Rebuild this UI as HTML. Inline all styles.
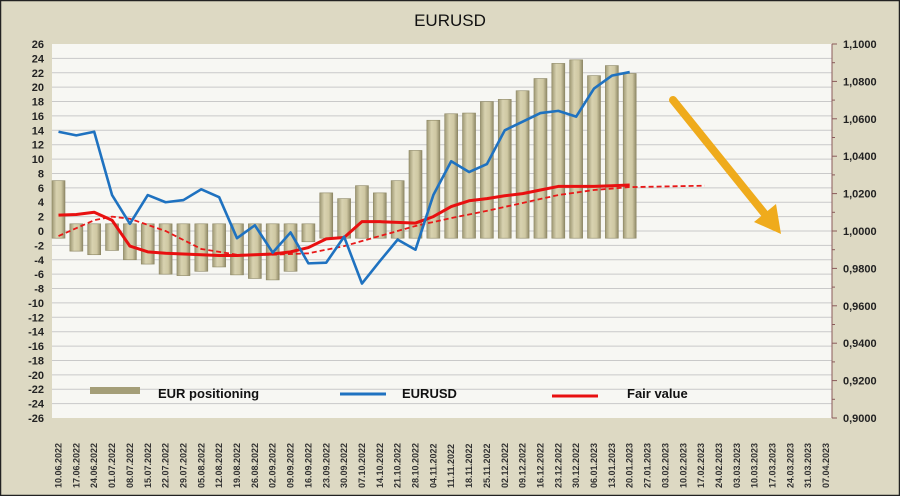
<!DOCTYPE html>
<html><head><meta charset="utf-8"><style>
html,body{margin:0;padding:0;background:#ddd9c3}
svg{display:block;font-family:"Liberation Sans",sans-serif}
</style></head><body>
<svg width="900" height="496" viewBox="0 0 900 496" xmlns="http://www.w3.org/2000/svg">
<defs>
<linearGradient id="bar" x1="0" x2="1" y1="0" y2="0">
<stop offset="0" stop-color="#9e9874"/><stop offset="0.35" stop-color="#d8d2b0"/><stop offset="0.7" stop-color="#cfc8a3"/><stop offset="1" stop-color="#8f8967"/>
</linearGradient>
</defs>
<rect x="0.5" y="0.5" width="899" height="495" fill="#ddd9c3" stroke="#222" stroke-width="1.5"/>
<text x="450" y="26" text-anchor="middle" font-size="17" fill="#111">EURUSD</text>
<rect x="52" y="44" width="780" height="374" fill="#f7f7f3"/>
<g id="grid" stroke="#c9c9c9" stroke-width="1"></g>
<g id="ylab" font-size="11" font-weight="bold" fill="#222" text-anchor="end"></g>
<g id="rlab" font-size="11" font-weight="bold" fill="#222"></g>
<line x1="832" y1="44" x2="832" y2="418" stroke="#8a5a5a" stroke-width="1"/>
<g id="rt" stroke="#8a5a5a" stroke-width="1"></g>
<g id="bars"></g>
<polyline id="dash" fill="none" stroke="#e81818" stroke-width="1.8" stroke-dasharray="5,3"/>
<polyline id="red" fill="none" stroke="#e81010" stroke-width="3" stroke-linejoin="round"/>
<polyline id="blue" fill="none" stroke="#1f72c0" stroke-width="2.6" stroke-linejoin="round"/>
<line x1="673" y1="100" x2="768" y2="218" stroke="#efab1c" stroke-width="8" stroke-linecap="round"/>
<polygon points="781,234 754,222 776,204" fill="#efab1c"/>
<g id="xlab" font-size="9" font-weight="bold" fill="#333"></g>
<rect x="90" y="387" width="50" height="7" fill="#a49e78"/>
<text x="158" y="398" font-size="13" font-weight="bold" fill="#111">EUR positioning</text>
<line x1="340" y1="394" x2="386" y2="394" stroke="#1f72c0" stroke-width="3"/>
<text x="402" y="398" font-size="13" font-weight="bold" fill="#111">EURUSD</text>
<line x1="552" y1="396" x2="598" y2="396" stroke="#e81010" stroke-width="3"/>
<text x="627" y="398" font-size="13" font-weight="bold" fill="#111">Fair value</text>
</svg>
<script>
const NS="http://www.w3.org/2000/svg";
const Y=v=>231-v*7.192, X=i=>58.5+i*17.85;
function el(t,a,p,txt){const e=document.createElementNS(NS,t);for(const k in a)e.setAttribute(k,a[k]);if(txt!==undefined)e.textContent=txt;document.getElementById(p).appendChild(e);}
for(let v=-26;v<=26;v+=2){if(v>-26&&v<26)el("line",{x1:52,x2:832,y1:Y(v),y2:Y(v)},"grid");el("text",{x:44,y:Y(v)+4},"ylab",String(v));}
for(let k=0;k<=10;k++){const y=418-k*37.4;el("text",{x:843,y:y+4},"rlab",(0.9+k*0.02).toFixed(4).replace(".",","));el("line",{x1:832,x2:837,y1:y,y2:y},"rt");if(k<10)el("line",{x1:832,x2:835,y1:y-18.7,y2:y-18.7},"rt");}
const bars=[7,-2.8,-3.3,-2.7,-4,-4.6,-6,-6.2,-5.6,-5,-6.1,-6.6,-6.8,-5.6,-1.5,5.3,4.5,6.3,5.3,7,11.2,15.4,16.3,16.4,18,18.3,19.5,21.2,23.3,23.8,21.6,23,21.9];
bars.forEach((v,i)=>{let t,b;if(v>0){t=Y(v);b=Y(-1);}else{t=Y(1);b=Y(v);}el("rect",{x:X(i)-6.5,y:t,width:13,height:b-t,fill:"url(#bar)",stroke:"#8c8663","stroke-width":0.6},"bars");});
const blue=[13.8,13.3,13.8,5,1,5,4,4.3,5.8,4.7,-1,0.8,-3,-0.2,-4.5,-4.4,-0.8,-7.3,-4.2,-1.2,-2.6,5,9.7,8.2,9.3,14,15.2,16.4,16.7,15.9,19.8,21.6,22.1];
document.getElementById("blue").setAttribute("points",blue.map((v,i)=>X(i)+","+Y(v)).join(" "));
const red=[2.2,2.3,2.6,1.5,-2.1,-2.9,-3.1,-3.2,-3.3,-3.4,-3.4,-3.3,-3.2,-2.9,-2.3,-1.1,-0.9,1.3,1.3,1.2,1.1,2,3.4,4.2,4.5,4.9,5.2,5.7,6.2,6.2,6.2,6.3,6.4];
document.getElementById("red").setAttribute("points",red.map((v,i)=>X(i)+","+Y(v)).join(" "));
const dpts=[[0,-0.7],[2,1.5],[3,2],[4,1.7],[6,0],[8,-2.5],[10,-3.3],[12,-3.3],[14,-3.1],[16,-2.1],[18,-0.7],[20,0.7],[22,1.8],[24,2.8],[26,3.9],[28,5.0],[30,5.7],[32,6.1],[36.2,6.3]];
document.getElementById("dash").setAttribute("points",dpts.map(p=>X(p[0])+","+Y(p[1])).join(" "));
let d=new Date(2022,5,10);
for(let i=0;i<44;i++){const s=String(d.getDate()).padStart(2,"0")+"."+String(d.getMonth()+1).padStart(2,"0")+"."+d.getFullYear();const x=X(i)+3;el("text",{x:0,y:0,transform:`translate(${x},488) rotate(-90)`},"xlab",s);d.setDate(d.getDate()+7);}
</script>
</body></html>
